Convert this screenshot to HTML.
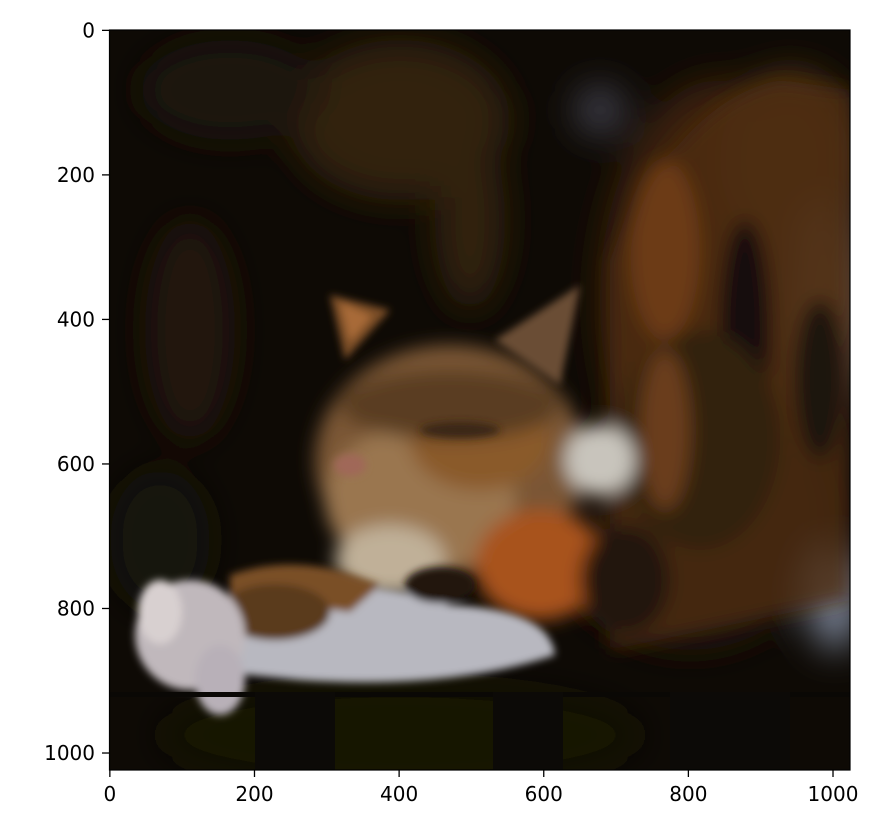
<!DOCTYPE html>
<html><head><meta charset="utf-8"><style>
body{margin:0;background:#fff;}
svg{display:block;font-family:"DejaVu Sans","Liberation Sans",sans-serif;}
</style></head><body>
<svg width="887" height="837" viewBox="0 0 887 837">
<defs>
<clipPath id="c"><rect x="109.5" y="30" width="740.5" height="740"/></clipPath>
<filter id="b1" x="-50%" y="-50%" width="200%" height="200%"><feGaussianBlur stdDeviation="18"/></filter>
<filter id="b2" x="-50%" y="-50%" width="200%" height="200%"><feGaussianBlur stdDeviation="9"/></filter>
<filter id="b3" x="-50%" y="-50%" width="200%" height="200%"><feGaussianBlur stdDeviation="4"/></filter>
</defs>
<g clip-path="url(#c)">
<rect x="109" y="30" width="742" height="740" fill="#0e0a05"/>
<g filter="url(#b1)">
<ellipse cx="400" cy="120" rx="110" ry="80" fill="#33220f"/>
<ellipse cx="470" cy="220" rx="35" ry="90" fill="#33220f"/>
<ellipse cx="230" cy="90" rx="90" ry="50" fill="#1e160a"/>
<ellipse cx="600" cy="110" rx="25" ry="25" fill="#3e3e48"/>
<ellipse cx="190" cy="330" rx="45" ry="110" fill="#24190b"/>
<ellipse cx="160" cy="540" rx="50" ry="70" fill="#171608"/>
<ellipse cx="720" cy="300" rx="120" ry="220" fill="#3e230f"/>
<ellipse cx="790" cy="160" rx="70" ry="90" fill="#4e3219"/>
<ellipse cx="825" cy="300" rx="35" ry="100" fill="#6a5240"/>
<ellipse cx="690" cy="520" rx="140" ry="130" fill="#22160b"/>
<ellipse cx="400" cy="735" rx="240" ry="50" fill="#141306"/>
<ellipse cx="835" cy="600" rx="25" ry="50" fill="#7a8498"/>
</g>
<g filter="url(#b2)">
<path d="M610 260 Q680 100 780 80 L850 90 L850 600 L610 650 Z" fill="#4e2c10" opacity="0.8"/>
<ellipse cx="665" cy="250" rx="35" ry="90" fill="#7a4216" opacity="0.7"/>
<ellipse cx="745" cy="330" rx="25" ry="110" fill="#160e07"/>
<ellipse cx="820" cy="380" rx="25" ry="80" fill="#1c1209"/>
<ellipse cx="700" cy="440" rx="80" ry="110" fill="#31200f"/>
<ellipse cx="665" cy="430" rx="25" ry="80" fill="#6a3e1a"/>
<ellipse cx="450" cy="460" rx="135" ry="115" fill="#7a5634"/>
<ellipse cx="420" cy="500" rx="95" ry="75" fill="#9a7650"/>
<ellipse cx="480" cy="440" rx="70" ry="50" fill="#8a5a2a"/>
<ellipse cx="600" cy="460" rx="35" ry="35" fill="#c8c4bc"/>
<ellipse cx="540" cy="565" rx="65" ry="55" fill="#a8521a"/>
<ellipse cx="450" cy="405" rx="110" ry="35" fill="#5a3e22"/>
<ellipse cx="390" cy="560" rx="55" ry="35" fill="#c0b098"/>
<ellipse cx="625" cy="580" rx="45" ry="55" fill="#24160a"/>
</g>
<g filter="url(#b3)">
<path d="M330 295 L390 310 L345 360 Z" fill="#7a4e28"/>
<path d="M580 285 L495 340 L560 385 Z" fill="#6a4e34"/>
<path d="M340 302 L372 316 L350 342 Z" fill="#a86a38"/>
<ellipse cx="350" cy="465" rx="16" ry="11" fill="#a06858"/>
<ellipse cx="460" cy="430" rx="40" ry="8" fill="#3a2612"/>
<path d="M210 600 Q350 570 450 605 Q550 610 555 655 Q450 690 300 680 L200 670 Z" fill="#b8b8c0"/>
<path d="M230 575 Q300 550 380 585 L350 612 Q280 602 230 612 Z" fill="#7a5028"/>
<ellipse cx="275" cy="612" rx="55" ry="28" fill="#5a3a1e"/>
<ellipse cx="190" cy="635" rx="55" ry="55" fill="#c0b8bc"/>
<ellipse cx="160" cy="612" rx="22" ry="32" fill="#d8d0d0"/>
<ellipse cx="220" cy="680" rx="25" ry="35" fill="#b8b0b8"/>
<ellipse cx="440" cy="585" rx="35" ry="18" fill="#22160c"/>
</g>
<rect x="109" y="692" width="742" height="5" fill="#0a0805"/>
<rect x="255" y="692" width="80" height="80" fill="#0c0a07"/>
<rect x="493" y="692" width="70" height="80" fill="#0c0a07"/>
<rect x="670" y="692" width="120" height="80" fill="#0c0a07"/>
</g>
<rect x="109.5" y="30" width="740.5" height="740" fill="none" stroke="#000" stroke-width="1.2"/>
<g id="xt" style="font-size:20px" text-anchor="middle"></g>
<g id="yt" style="font-size:20px" text-anchor="end"></g>
<script>
const xTicks=[0,200,400,600,800,1000];
const yTicks=[0,200,400,600,800,1000];
const s=740.5/1024;
const xp=v=>109.5+(v+0.5)*s, yp=v=>30+(v+0.5)*740/1024;
const NS="http://www.w3.org/2000/svg";
const xt=document.getElementById('xt'), yt=document.getElementById('yt');
xTicks.forEach(v=>{
 const l=document.createElementNS(NS,'line');
 
 
 l.setAttribute('x1',xp(v));l.setAttribute('x2',xp(v));l.setAttribute('y1',770);l.setAttribute('y2',777);l.setAttribute('stroke','#000');l.setAttribute('stroke-width','1.3');
 xt.appendChild(l);
 const t=document.createElementNS(NS,'text');
 
 
 t.setAttribute('x',xp(v));t.setAttribute('y',801);t.textContent=v;
 xt.appendChild(t);
});
yTicks.forEach(v=>{
 const l=document.createElementNS(NS,'line');
 
 
 l.setAttribute('x1',102);l.setAttribute('x2',109.5);l.setAttribute('y1',yp(v));l.setAttribute('y2',yp(v));l.setAttribute('stroke','#000');l.setAttribute('stroke-width','1.3');
 yt.appendChild(l);
 const t=document.createElementNS(NS,'text');
 
 
 t.setAttribute('x',95);t.setAttribute('y',yp(v)+7);t.textContent=v;
 yt.appendChild(t);
});
</script>
</svg>
</body></html>
